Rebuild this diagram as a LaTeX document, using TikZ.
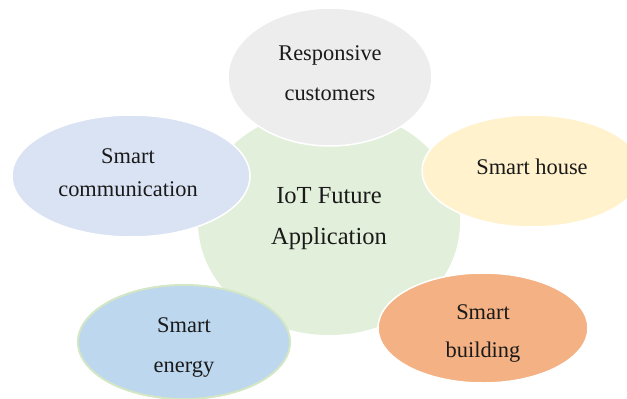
\documentclass[tikz,border=0pt]{standalone}
\usepackage{fontspec}
\setmainfont{Liberation Serif}
\usetikzlibrary{shapes.geometric}
\definecolor{cgreen}{HTML}{E2EFDA}
\definecolor{cgray}{HTML}{EDEDED}
\definecolor{ccomm}{HTML}{DAE3F3}
\definecolor{chouse}{HTML}{FFF2CC}
\definecolor{cenergy}{HTML}{BDD7EE}
\definecolor{cbuild}{HTML}{F4B183}
\definecolor{cedge}{HTML}{D3E6C6}
\definecolor{ctext}{HTML}{1A1A1A}
\tikzset{
  bubble/.style={ellipse, inner sep=0pt, draw=white, line width=1.5pt},
  hub/.style={ellipse, inner sep=0pt, minimum width=262pt, minimum height=226pt, fill=cgreen},
  txt/.style={align=center, text=ctext, inner sep=0pt, font=\fontsize{22.4}{#1}\selectfont},
  txt/.default=38
}
\begin{document}
\begin{tikzpicture}[x=1pt,y=-1pt]
\useasboundingbox (0,0) rectangle (627,399);
\clip (0,0) rectangle (627,399);
\fill[white] (0,0) rectangle (627,399);
\node[hub] (hub) at (329,222) {};
\node[bubble, fill=cgray, minimum width=204pt, minimum height=138pt] (rc) at (330,77) {};
\node[bubble, fill=ccomm, minimum width=238pt, minimum height=122pt] (sc) at (131,176) {};
\node[bubble, fill=chouse, minimum width=220pt, minimum height=112pt] (sh) at (532,171) {};
\node[bubble, fill=cenergy, draw=cedge, line width=2pt, minimum width=212pt, minimum height=114pt] (se) at (184,342) {};
\node[bubble, fill=cbuild, minimum width=210pt, minimum height=110pt] (sb) at (483,328) {};
\node[txt=41, font=\fontsize{24.5}{41}\selectfont] (hub-t) at (329,219) {IoT Future\\Application};
\node[txt=40] (rc-t) at (330,73) {Responsive\\customers};
\node[txt=33] (sc-t) at (128,173) {Smart\\communication};
\node[txt] (sh-t) at (532,167) {Smart house};
\node[txt=40] (se-t) at (184,347) {Smart\\energy};
\node[txt=38] (sb-t) at (483,333) {Smart\\building};
\end{tikzpicture}
\end{document}
